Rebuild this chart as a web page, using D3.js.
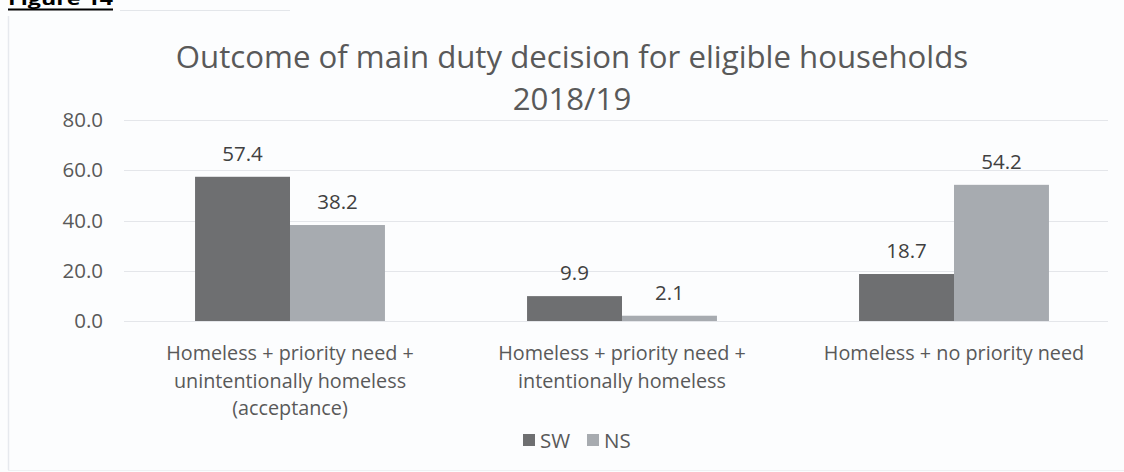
<!DOCTYPE html>
<html>
<head>
<meta charset="utf-8">
<script src="https://cdn.jsdelivr.net/npm/d3@7"></script>
<style>
  html, body { margin: 0; padding: 0; background: #fdfeff; }
  svg { display: block; }
  text { font-family: "Open Sans", "Noto Sans", sans-serif; }
</style>
</head>
<body>
<svg id="chart" width="1124" height="472"></svg>
<script>
// Outcome of main duty decision, share of eligible households (%)
const categories = [
  ["Homeless + priority need +", "unintentionally homeless", "(acceptance)"],
  ["Homeless + priority need +", "intentionally homeless"],
  ["Homeless + no priority need"]
];
const seriesNames = ["SW", "NS"];
const swValues = [57.4, 9.9, 18.7];
const nsValues = [38.2, 2.1, 54.2];
const yTicks = [0, 20, 40, 60, 80];
const titleLines = ["Outcome of main duty decision for eligible households", "2018/19"];

const colors = { SW: "#6e6f71", NS: "#a7abb0" };
const values = { SW: swValues, NS: nsValues };

const svg = d3.select("#chart");
const W = 1124, H = 472;

// frame
svg.append("rect").attr("x", 0).attr("y", 0).attr("width", W).attr("height", H).attr("fill", "#fcfdfe");
svg.append("line").attr("x1", 8.5).attr("x2", 8.5).attr("y1", 16).attr("y2", 470)
  .attr("stroke", "#e6e9ee").attr("stroke-width", 1.5);
svg.append("line").attr("x1", 8).attr("x2", 1124).attr("y1", 470.5).attr("y2", 470.5)
  .attr("stroke", "#eef0f3").attr("stroke-width", 1);
svg.append("line").attr("x1", 120).attr("x2", 290).attr("y1", 10.5).attr("y2", 10.5)
  .attr("stroke", "#e3e6ea").attr("stroke-width", 1);

// figure heading above the chart box, running off the top edge
svg.append("text").attr("x", 8).attr("y", 5)
  .attr("font-family", "Liberation Sans, Arial, sans-serif")
  .attr("font-weight", "bold").attr("font-size", 18).attr("fill", "#000")
  .attr("textLength", 105).attr("lengthAdjust", "spacingAndGlyphs")
  .text("Figure 14");
svg.append("line").attr("x1", 8).attr("x2", 113).attr("y1", 9.5).attr("y2", 9.5)
  .attr("stroke", "#000").attr("stroke-width", 2);

// title
const title = svg.append("text").attr("text-anchor", "middle").attr("fill", "#595959")
  .attr("font-size", 31.2);
title.selectAll("tspan").data(titleLines).join("tspan")
  .attr("x", 572).attr("y", (d, i) => 68 + i * 42).text(d => d);

const plot = { left: 124, right: 1120, top: 120, bottom: 321 };

const x0 = d3.scaleBand().domain(d3.range(categories.length))
  .range([plot.left, plot.right]).paddingInner(0).paddingOuter(0);
const x1 = d3.scaleBand().domain(seriesNames)
  .range([x0.bandwidth() * 0.214, x0.bandwidth() * 0.786]).padding(0);
const y = d3.scaleLinear().domain([0, 80]).range([plot.bottom, plot.top]);

// gridlines
svg.append("g").selectAll("line").data(yTicks).join("line")
  .attr("x1", plot.left).attr("x2", 1108)
  .attr("y1", d => Math.round(y(d)) + 0.5).attr("y2", d => Math.round(y(d)) + 0.5)
  .attr("stroke", "#e4e6ea").attr("stroke-width", 1);

// y axis labels
const yAxis = d3.axisLeft(y).tickValues(yTicks).tickFormat(d3.format(".1f")).tickSize(0).tickPadding(0);
const yg = svg.append("g").attr("transform", `translate(103,0)`).call(yAxis);
yg.select(".domain").remove();
yg.selectAll("text").attr("font-size", 20.5).attr("fill", "#595959")
  .attr("font-family", "Open Sans, sans-serif");

// bars and value labels
const groups = svg.append("g").selectAll("g").data(categories).join("g")
  .attr("transform", (d, i) => `translate(${x0(i)},0)`);
groups.each(function (cat, i) {
  const g = d3.select(this);
  seriesNames.forEach(s => {
    const v = values[s][i];
    g.append("rect")
      .attr("x", x1(s)).attr("width", x1.bandwidth())
      .attr("y", y(v)).attr("height", y(0) - y(v))
      .attr("fill", colors[s]);
    g.append("text")
      .attr("x", x1(s) + x1.bandwidth() / 2).attr("y", y(v) - 16)
      .attr("text-anchor", "middle").attr("font-size", 20.5).attr("fill", "#404040")
      .text(d3.format(".1f")(v));
  });
  const lab = g.append("text").attr("text-anchor", "middle").attr("fill", "#595959").attr("font-size", 19.8);
  lab.selectAll("tspan").data(cat).join("tspan")
    .attr("x", x0.bandwidth() / 2).attr("y", (d, j) => 360 + j * 27.5).text(d => d);
});

// legend
const legend = svg.append("g").attr("transform", "translate(523,434)");
const legX = { SW: 0, NS: 64 };
seriesNames.forEach(s => {
  const lg = legend.append("g").attr("transform", `translate(${legX[s]},0)`);
  lg.append("rect").attr("x", 0).attr("y", 0).attr("width", 12).attr("height", 12).attr("fill", colors[s]);
  lg.append("text").attr("x", 17).attr("y", 13.5).attr("font-size", 20.5).attr("fill", "#595959").text(s);
});
</script>
</body>
</html>
